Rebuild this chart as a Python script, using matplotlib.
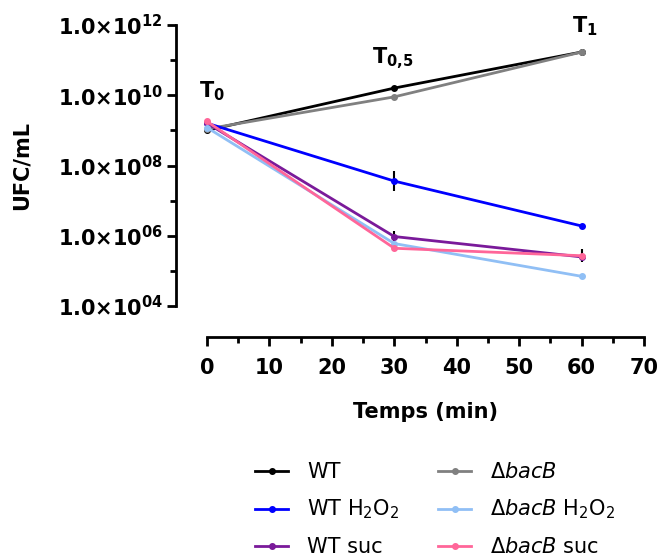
import numpy as np
import matplotlib
matplotlib.use('Agg')
import matplotlib.pyplot as plt
from matplotlib.ticker import NullFormatter

plt.rcParams['font.family'] = ['DejaVu Sans']
plt.rcParams['mathtext.fontset'] = 'dejavusans'

# Time points (min)
temps = [0, 30, 60]

# UFC/mL for each strain / condition
labels = ['WT', 'WT H$_2$O$_2$', 'WT suc',
          r'$\Delta\mathit{bacB}$', r'$\Delta\mathit{bacB}$ H$_2$O$_2$', r'$\Delta\mathit{bacB}$ suc']
colors = ['#000000', '#0000ff', '#7a1a9a', '#808080', '#90bff5', '#ff6699']

wt = [1.0e9, 1.6e10, 1.7e11]
wt_h2o2 = [1.6e9, 3.6e7, 1.9e6]
wt_suc = [1.6e9, 9.5e5, 2.5e5]
bacb = [1.1e9, 9.0e9, 1.7e11]
bacb_h2o2 = [1.2e9, 6.0e5, 7.0e4]
bacb_suc = [1.8e9, 4.4e5, 2.7e5]

# error bars (lower, upper)
wt_err = [[1.7e8, 0, 0], [0, 0, 0]]
wt_h2o2_err = [[0, 1.7e7, 0], [0, 3.3e7, 0]]
wt_suc_err = [[0, 2.5e5, 0.7e5], [0, 4.5e5, 1.6e5]]

series = [wt, wt_h2o2, wt_suc, bacb, bacb_h2o2, bacb_suc]
errors = [wt_err, wt_h2o2_err, wt_suc_err, None, None, None]

fig = plt.figure(figsize=(6.61, 5.58), dpi=100)
ax = fig.add_axes([207/661, 252/558, 437/661, 281/558])

# draw order: pink / light blue on top like the original
handles = [None] * 6
for i in [0, 3, 1, 2, 4, 5]:
    handles[i], = ax.plot(temps, series[i], color=colors[i], lw=2, marker='o', ms=4,
                          label=labels[i], zorder=3, clip_on=False)
    if errors[i] is not None:
        ax.errorbar(temps, series[i], yerr=errors[i], fmt='none', ecolor='black',
                    elinewidth=1.5, capsize=0, zorder=2)

ax.set_yscale('log')
ax.set_ylim(1e4, 1e12)
ax.set_xlim(0, 70)
ax.set_xticks(range(0, 71, 10))
ax.set_xticks(range(5, 70, 10), minor=True)
ax.set_yticks([1e4, 1e6, 1e8, 1e10, 1e12])
ax.set_yticks([1e5, 1e7, 1e9, 1e11], minor=True)
ax.yaxis.set_minor_formatter(NullFormatter())
ax.set_yticklabels([r'$\mathbf{1.0{\times}10^{%02d}}$' % e for e in [4, 6, 8, 10, 12]])
ax.set_xticklabels([str(v) for v in range(0, 71, 10)])

for s in ['top', 'right']:
    ax.spines[s].set_visible(False)
ax.spines['left'].set_position(('outward', 22))
ax.spines['bottom'].set_position(('outward', 22))
ax.spines['left'].set_linewidth(2)
ax.spines['bottom'].set_linewidth(2)
ax.tick_params(which='major', length=6.5, width=2, labelsize=15)
ax.tick_params(which='minor', length=4, width=2)
ax.tick_params(axis='x', pad=9)
ax.tick_params(axis='y', pad=3)
for t in ax.get_xticklabels():
    t.set_fontweight('bold')

ax.set_xlabel('Temps (min)', fontsize=15, fontweight='bold', labelpad=17)
ax.set_ylabel('UFC/mL', fontsize=15, fontweight='bold', labelpad=19)

# time annotations
ax.text(-1.3, 10**9.95, r'$\mathbf{T_0}$', fontsize=15, ha='left', va='baseline')
ax.text(26.4, 10**10.92, r'$\mathbf{T_{0{,}5}}$', fontsize=15, ha='left', va='baseline')
ax.text(58.5, 10**11.8, r'$\mathbf{T_1}$', fontsize=15, ha='left', va='baseline')

leg = fig.legend(handles=handles, loc='upper left', bbox_to_anchor=(255/661, 1 - 462/558),
                 ncol=2, frameon=False, fontsize=15, handlelength=1.6, handletextpad=0.9,
                 columnspacing=1.85, labelspacing=0.76, borderpad=0, borderaxespad=0)

fig.savefig('out.png', dpi=100)
